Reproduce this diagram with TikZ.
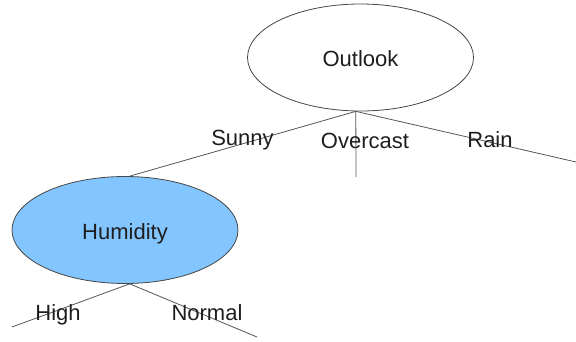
\documentclass[tikz,border=0pt]{standalone}
\usepackage{fontspec}
\setmainfont{Liberation Sans}
\usetikzlibrary{shapes.geometric}
\definecolor{edgegray}{RGB}{85,85,85}
\definecolor{rimgray}{RGB}{70,70,70}
\definecolor{skyblue}{RGB}{131,197,255}
\definecolor{inkdark}{RGB}{30,30,30}
\tikzset{
  treenode/.style={ellipse, draw=rimgray, line width=0.8pt, inner sep=0pt,
    minimum width=226pt, minimum height=107pt, font=\fontsize{22}{26}\selectfont, text=inkdark},
  branch/.style={draw=edgegray, line width=0.8pt},
  edgelabel/.style={font=\fontsize{22}{26}\selectfont, text=inkdark, inner sep=0pt}
}
% lower a label inside its node while keeping the node's own size
\newcommand{\dropby}[2]{\raisebox{-#1}[\height][\depth]{#2}}
\begin{document}
\begin{tikzpicture}[x=1pt, y=-1pt]
  \useasboundingbox (0,0) rectangle (576,341);
  % decision nodes
  \node[treenode, fill=white] (outlook) at (360.5,57.5) {\dropby{1pt}{Outlook}};
  \node[treenode, fill=skyblue] (humidity) at (125,230) {\dropby{3.5pt}{Humidity}};
  % free ends of the leaf branches
  \coordinate (overcastEnd) at (356,177);
  \coordinate (rainEnd) at (576,162);
  \coordinate (highEnd) at (12,327);
  \coordinate (normalEnd) at (257,337);
  % branches
  \draw[branch] (outlook.265) -- (humidity.85);
  \draw[branch] (outlook.265) -- (overcastEnd);
  \draw[branch] (outlook.265) -- (rainEnd);
  \draw[branch] (humidity.275) -- (highEnd);
  \draw[branch] (humidity.275) -- (normalEnd);
  % branch labels
  \node[edgelabel] (sunny) at (242.5,140.5) {Sunny};
  \node[edgelabel] (overcast) at (365,140.5) {Overcast};
  \node[edgelabel] (rain) at (490,140) {Rain};
  \node[edgelabel] (high) at (58,314.5) {High};
  \node[edgelabel] (normal) at (207,313) {Normal};
\end{tikzpicture}
\end{document}
